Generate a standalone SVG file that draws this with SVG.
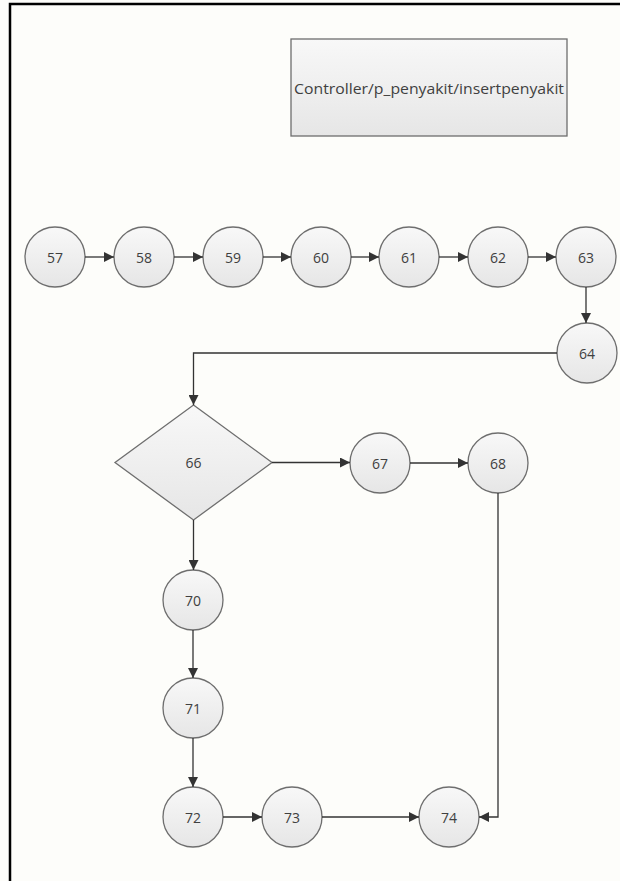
<svg xmlns="http://www.w3.org/2000/svg" width="620" height="881" viewBox="0 0 620 881">
<defs>
<linearGradient id="g" x1="0" y1="0" x2="0" y2="1">
<stop offset="0" stop-color="#f8f8f8"/>
<stop offset="1" stop-color="#e6e6e6"/>
</linearGradient>
<marker id="ah" viewBox="0 0 10 10" refX="10" refY="5" markerWidth="10" markerHeight="10" markerUnits="userSpaceOnUse" orient="auto">
<path d="M0,0 L10,5 L0,10 Z" fill="#333"/>
</marker>
</defs>
<style>
.n{fill:url(#g);stroke:#6e6e6e;stroke-width:1.3}
.t{font-family:"Open Sans","Liberation Sans",sans-serif;font-size:14px;fill:#404040;text-anchor:middle;dominant-baseline:central}
.c{fill:none;stroke:#333;stroke-width:1.3;marker-end:url(#ah)}
</style>
<rect x="0" y="0" width="620" height="881" fill="#fdfdfa"/>
<path d="M10,881 V4 H620" fill="none" stroke="#000" stroke-width="2.5"/>
<g id="title">
<rect x="291" y="39" width="276" height="97" class="n" stroke="#555"/>
<text x="429" y="88" class="t" font-size="15" textLength="270" lengthAdjust="spacingAndGlyphs">Controller/p_penyakit/insertpenyakit</text>
</g>
<g id="n57"><circle cx="55" cy="257" r="30" class="n"/><text x="55" y="257" class="t">57</text></g>
<g id="n58"><circle cx="144" cy="257" r="30" class="n"/><text x="144" y="257" class="t">58</text></g>
<g id="n59"><circle cx="233" cy="257" r="30" class="n"/><text x="233" y="257" class="t">59</text></g>
<g id="n60"><circle cx="321" cy="257" r="30" class="n"/><text x="321" y="257" class="t">60</text></g>
<g id="n61"><circle cx="409" cy="257" r="30" class="n"/><text x="409" y="257" class="t">61</text></g>
<g id="n62"><circle cx="498" cy="257" r="30" class="n"/><text x="498" y="257" class="t">62</text></g>
<g id="n63"><circle cx="586" cy="257" r="30" class="n"/><text x="586" y="257" class="t">63</text></g>
<g id="n64"><circle cx="587" cy="353" r="30" class="n"/><text x="587" y="353" class="t">64</text></g>
<g id="n66"><polygon points="193.5,405 272,462.5 193.5,520 115,462.5" class="n"/><text x="193.5" y="462.5" class="t">66</text></g>
<g id="n67"><circle cx="380" cy="463" r="30" class="n"/><text x="380" y="463" class="t">67</text></g>
<g id="n68"><circle cx="498" cy="463" r="30" class="n"/><text x="498" y="463" class="t">68</text></g>
<g id="n70"><circle cx="193" cy="600" r="30" class="n"/><text x="193" y="600" class="t">70</text></g>
<g id="n71"><circle cx="193" cy="708" r="30" class="n"/><text x="193" y="708" class="t">71</text></g>
<g id="n72"><circle cx="193" cy="817" r="30" class="n"/><text x="193" y="817" class="t">72</text></g>
<g id="n73"><circle cx="292" cy="817" r="30" class="n"/><text x="292" y="817" class="t">73</text></g>
<g id="n74"><circle cx="449" cy="817" r="30" class="n"/><text x="449" y="817" class="t">74</text></g>
<g id="connectors">
<path d="M85,257 H114" class="c"/>
<path d="M174,257 H203" class="c"/>
<path d="M263,257 H291" class="c"/>
<path d="M351,257 H379" class="c"/>
<path d="M439,257 H468" class="c"/>
<path d="M528,257 H556" class="c"/>
<path d="M586,287 V323" class="c"/>
<path d="M557,353 H193.5 V405" class="c"/>
<path d="M272,462.5 H350" class="c"/>
<path d="M410,463 H468" class="c"/>
<path d="M498,493 V817 H479" class="c"/>
<path d="M193.5,520 V570" class="c"/>
<path d="M193,630 V678" class="c"/>
<path d="M193,738 V787" class="c"/>
<path d="M223,817 H262" class="c"/>
<path d="M322,817 H419" class="c"/>
</g>
</svg>
